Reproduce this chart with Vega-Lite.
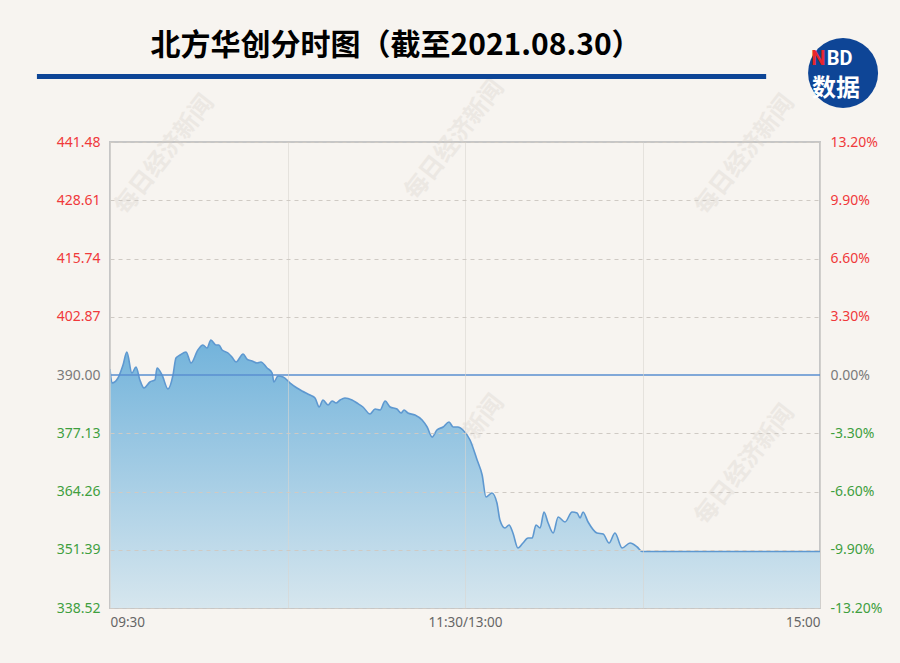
{
  "$schema": "https://vega.github.io/schema/vega-lite/v6.json",
  "width": 710,
  "height": 466,
  "autosize": {"type": "none"},
  "padding": {"left": 110, "top": 142, "right": 80, "bottom": 55},
  "background": "#f7f4f0",
  "config": {
    "view": {"stroke": "#c6c6c6", "strokeWidth": 2},
    "axis": {"labelFont": "Noto Sans", "domain": false, "ticks": false, "title": null}
  },
  "datasets": {
    "px": [
      {"t":0,"p":391.33},{"t":0.7,"p":388.23},{"t":2.7,"p":389.34},{"t":4.4,"p":392.21},{"t":5.7,"p":395.08},{"t":7.4,"p":390.44},{"t":8.8,"p":391.77},{"t":10.1,"p":388.9},{"t":11.5,"p":387.13},{"t":13.5,"p":388.46},{"t":15.2,"p":388.9},{"t":15.9,"p":391.55},{"t":17.6,"p":390.0},{"t":19.6,"p":386.91},{"t":21.3,"p":390.0},{"t":22.3,"p":393.76},{"t":23.7,"p":394.42},{"t":25.7,"p":395.08},{"t":27.4,"p":392.65},{"t":29.7,"p":395.52},{"t":31.4,"p":396.63},{"t":32.8,"p":395.96},{"t":34.1,"p":397.73},{"t":35.8,"p":396.63},{"t":36.8,"p":396.63},{"t":37.9,"p":395.52},{"t":39.9,"p":394.86},{"t":41.2,"p":393.98},{"t":42.6,"p":392.87},{"t":45.0,"p":394.64},{"t":46.3,"p":393.53},{"t":48.0,"p":393.09},{"t":49.7,"p":392.65},{"t":51.0,"p":392.87},{"t":53.1,"p":391.55},{"t":54.8,"p":390.44},{"t":55.4,"p":388.46},{"t":56.8,"p":389.78},{"t":58.5,"p":389.56},{"t":60.9,"p":388.23},
      {"t":63.2,"p":387.13},{"t":64.9,"p":386.47},{"t":67.6,"p":385.58},{"t":69.3,"p":384.92},{"t":70.7,"p":382.93},{"t":72.0,"p":384.48},{"t":73.7,"p":383.37},{"t":75.1,"p":384.26},{"t":76.4,"p":383.81},{"t":77.8,"p":384.48},{"t":79.4,"p":384.92},{"t":81.8,"p":384.48},{"t":83.5,"p":383.81},{"t":85.5,"p":382.93},{"t":87.9,"p":381.38},{"t":89.6,"p":382.48},{"t":91.3,"p":382.26},{"t":93.0,"p":384.26},{"t":94.7,"p":382.93},{"t":97.0,"p":382.48},{"t":98.4,"p":381.6},{"t":99.4,"p":382.26},{"t":100.7,"p":381.6},{"t":103.1,"p":381.16},{"t":105.5,"p":380.06},{"t":107.2,"p":378.51},{"t":108.9,"p":376.3},{"t":110.5,"p":377.85},{"t":112.6,"p":378.51},{"t":114.6,"p":379.62},{"t":116.0,"p":378.51},{"t":117.6,"p":378.51},{"t":119.3,"p":377.85},{"t":121.7,"p":375.64},{"t":124.1,"p":371.22},{"t":125.8,"p":367.9},{"t":127.1,"p":363.04},{"t":129.1,"p":363.93},{"t":130.8,"p":361.72},{"t":131.8,"p":357.96},{"t":133.5,"p":356.2},{"t":134.9,"p":356.86},{"t":136.2,"p":355.09},{"t":137.9,"p":351.78},{"t":139.6,"p":352.88},{"t":141.3,"p":353.99},{"t":142.7,"p":353.99},{"t":144.0,"p":356.86},{"t":145.4,"p":356.2},{"t":146.7,"p":359.73},{"t":148.1,"p":357.3},{"t":149.8,"p":355.09},{"t":151.5,"p":358.62},{"t":153.8,"p":357.52},{"t":156.2,"p":359.73},{"t":157.9,"p":359.51},{"t":158.9,"p":358.41},{"t":159.9,"p":359.73},{"t":161.6,"p":357.52},{"t":164.6,"p":355.09},{"t":166.7,"p":354.87},{"t":168.7,"p":352.88},{"t":170.7,"p":355.09},{"t":173.1,"p":351.78},{"t":175.8,"p":352.88},{"t":178.2,"p":352.0},{"t":179.9,"p":351.0},{"t":240,"p":351.0}
    ],
    "wm": [
      {"t":18.6,"p":438.61,"s":"每日经济新闻"},{"t":116.6,"p":441.92,"s":"每日经济新闻"},{"t":214.7,"p":438.61,"s":"每日经济新闻"},
      {"t":16.9,"p":371.22,"s":"每日经济新闻"},{"t":116.6,"p":372.32,"s":"每日经济新闻"},{"t":214.7,"p":370.11,"s":"每日经济新闻"}
    ],
    "base": [{"p": 390}],
    "ttl": [{"t": 96.7, "p": 462.69, "s": "北方华创分时图（截至2021.08.30）"}],
    "bar": [{"t0":-24.7,"t1":221.8,"p":455.95}],
    "logo": [{"t":247.8,"p":456.73}],
    "logoN": [{"t":241.8,"p":459.82,"s":"N"}],
    "logoBD": [{"t":242.3,"p":459.82,"s":"BD"}],
    "logoCN": [{"t":245.4,"p":453.19,"s":"数据"}]
  },
  "resolve": {"axis": {"y": "independent"}},
  "layer": [
    {
      "data": {"name": "wm"},
      "mark": {"type": "text", "font": "Noto Sans CJK SC", "fontWeight": "bold", "fontSize": 24, "angle": -52, "color": "#d8d2cc", "opacity": 0.35, "clip": false},
      "encoding": {
        "x": {"field": "t", "type": "quantitative", "scale": {"domain": [0, 240], "nice": false, "zero": false},
              "axis": {"values": [0, 60, 120, 180, 240], "labelExpr": "datum.value == 0 ? '09:30' : datum.value == 120 ? '11:30/13:00' : datum.value == 240 ? '15:00' : ''", "labelFlush": true, "labelOverlap": false, "labelColor": "#666666", "labelFontSize": 13.5, "labelPadding": 7, "grid": true, "gridColor": "#d9d5d0", "gridOpacity": 0.6, "zindex": 1}},
        "y": {"field": "p", "type": "quantitative", "scale": {"domain": [338.52, 441.48], "nice": false, "zero": false}, "axis": null},
        "text": {"field": "s"}
      }
    },
    {
      "data": {"name": "px"},
      "mark": {"type": "area", "interpolate": "monotone", "clip": true,
               "color": {"gradient": "linear", "x1": 0, "y1": 0, "x2": 0, "y2": 1,
                         "stops": [{"offset": 0, "color": "#72b3db"}, {"offset": 1, "color": "#d6e6ee"}]}},
      "encoding": {
        "x": {"field": "t", "type": "quantitative", "scale": {"domain": [0, 240], "nice": false, "zero": false}},
        "y": {"field": "p", "type": "quantitative", "scale": {"domain": [338.52, 441.48], "nice": false, "zero": false},
              "axis": {"orient": "left", "values": [338.52, 351.39, 364.26, 377.13, 390, 402.87, 415.74, 428.61, 441.48],
                       "labelExpr": "format(datum.value, '.2f')", "labelFontSize": 14, "labelPadding": 10, "labelOverlap": false,
                       "grid": true, "gridDash": [4, 4], "zindex": 1,
                       "gridColor": {"condition": {"test": "abs(datum.value - 390) < 0.001", "value": "transparent"}, "value": "#cfcac4"},
                       "labelColor": {"condition": [{"test": "datum.value > 390.001", "value": "#f0393b"}, {"test": "datum.value < 389.999", "value": "#3f9f3f"}], "value": "#7a7a7a"}}},
        "y2": {"datum": 338.52}
      }
    },
    {
      "data": {"name": "px"},
      "mark": {"type": "line", "interpolate": "monotone", "clip": true, "color": "#5e98d0", "strokeWidth": 1.6},
      "encoding": {
        "x": {"field": "t", "type": "quantitative", "scale": {"domain": [0, 240], "nice": false, "zero": false}},
        "y": {"field": "p", "type": "quantitative", "scale": {"domain": [338.52, 441.48], "nice": false, "zero": false},
              "axis": {"orient": "right", "values": [338.52, 351.39, 364.26, 377.13, 390, 402.87, 415.74, 428.61, 441.48],
                       "labelExpr": "replace(format((datum.value - 390) / 390, '.2%'), '\u2212', '-')", "labelFontSize": 14, "labelPadding": 10, "labelOverlap": false,
                       "grid": false,
                       "labelColor": {"condition": [{"test": "datum.value > 390.001", "value": "#f0393b"}, {"test": "datum.value < 389.999", "value": "#3f9f3f"}], "value": "#7a7a7a"}}}
      }
    },
    {
      "data": {"name": "base"},
      "mark": {"type": "rule", "color": "#5a8fd0", "strokeWidth": 1.5},
      "encoding": {
        "y": {"field": "p", "type": "quantitative", "scale": {"domain": [338.52, 441.48], "nice": false, "zero": false}, "axis": null}
      }
    },
    {
      "data": {"name": "ttl"},
      "mark": {"type": "text", "font": "Noto Sans CJK SC", "fontWeight": "bold", "fontSize": 30, "color": "#000000", "align": "center", "baseline": "middle", "clip": false},
      "encoding": {
        "x": {"field": "t", "type": "quantitative", "scale": {"domain": [0, 240], "nice": false, "zero": false}},
        "y": {"field": "p", "type": "quantitative", "scale": {"domain": [338.52, 441.48], "nice": false, "zero": false}, "axis": null},
        "text": {"field": "s"}
      }
    },
    {
      "data": {"name": "bar"},
      "mark": {"type": "rule", "color": "#0d4596", "strokeWidth": 5, "clip": false},
      "encoding": {
        "x": {"field": "t0", "type": "quantitative", "scale": {"domain": [0, 240], "nice": false, "zero": false}},
        "x2": {"field": "t1"},
        "y": {"field": "p", "type": "quantitative", "scale": {"domain": [338.52, 441.48], "nice": false, "zero": false}, "axis": null}
      }
    },
    {
      "data": {"name": "logo"},
      "mark": {"type": "point", "shape": "circle", "filled": true, "color": "#0e4596", "opacity": 1, "size": 4900, "clip": false},
      "encoding": {
        "x": {"field": "t", "type": "quantitative", "scale": {"domain": [0, 240], "nice": false, "zero": false}},
        "y": {"field": "p", "type": "quantitative", "scale": {"domain": [338.52, 441.48], "nice": false, "zero": false}, "axis": null}
      }
    },
    {
      "data": {"name": "logoN"},
      "mark": {"type": "text", "font": "Roboto", "fontWeight": "bold", "fontSize": 20, "color": "#e8262b", "align": "right", "baseline": "middle", "clip": false},
      "encoding": {
        "x": {"field": "t", "type": "quantitative", "scale": {"domain": [0, 240], "nice": false, "zero": false}},
        "y": {"field": "p", "type": "quantitative", "scale": {"domain": [338.52, 441.48], "nice": false, "zero": false}, "axis": null},
        "text": {"field": "s"}
      }
    },
    {
      "data": {"name": "logoBD"},
      "mark": {"type": "text", "font": "Roboto", "fontWeight": "bold", "fontSize": 20, "color": "#ffffff", "align": "left", "baseline": "middle", "clip": false},
      "encoding": {
        "x": {"field": "t", "type": "quantitative", "scale": {"domain": [0, 240], "nice": false, "zero": false}},
        "y": {"field": "p", "type": "quantitative", "scale": {"domain": [338.52, 441.48], "nice": false, "zero": false}, "axis": null},
        "text": {"field": "s"}
      }
    },
    {
      "data": {"name": "logoCN"},
      "mark": {"type": "text", "font": "Noto Sans CJK SC", "fontWeight": "bold", "fontSize": 24, "color": "#ffffff", "align": "center", "baseline": "middle", "clip": false},
      "encoding": {
        "x": {"field": "t", "type": "quantitative", "scale": {"domain": [0, 240], "nice": false, "zero": false}},
        "y": {"field": "p", "type": "quantitative", "scale": {"domain": [338.52, 441.48], "nice": false, "zero": false}, "axis": null},
        "text": {"field": "s"}
      }
    }
  ]
}
